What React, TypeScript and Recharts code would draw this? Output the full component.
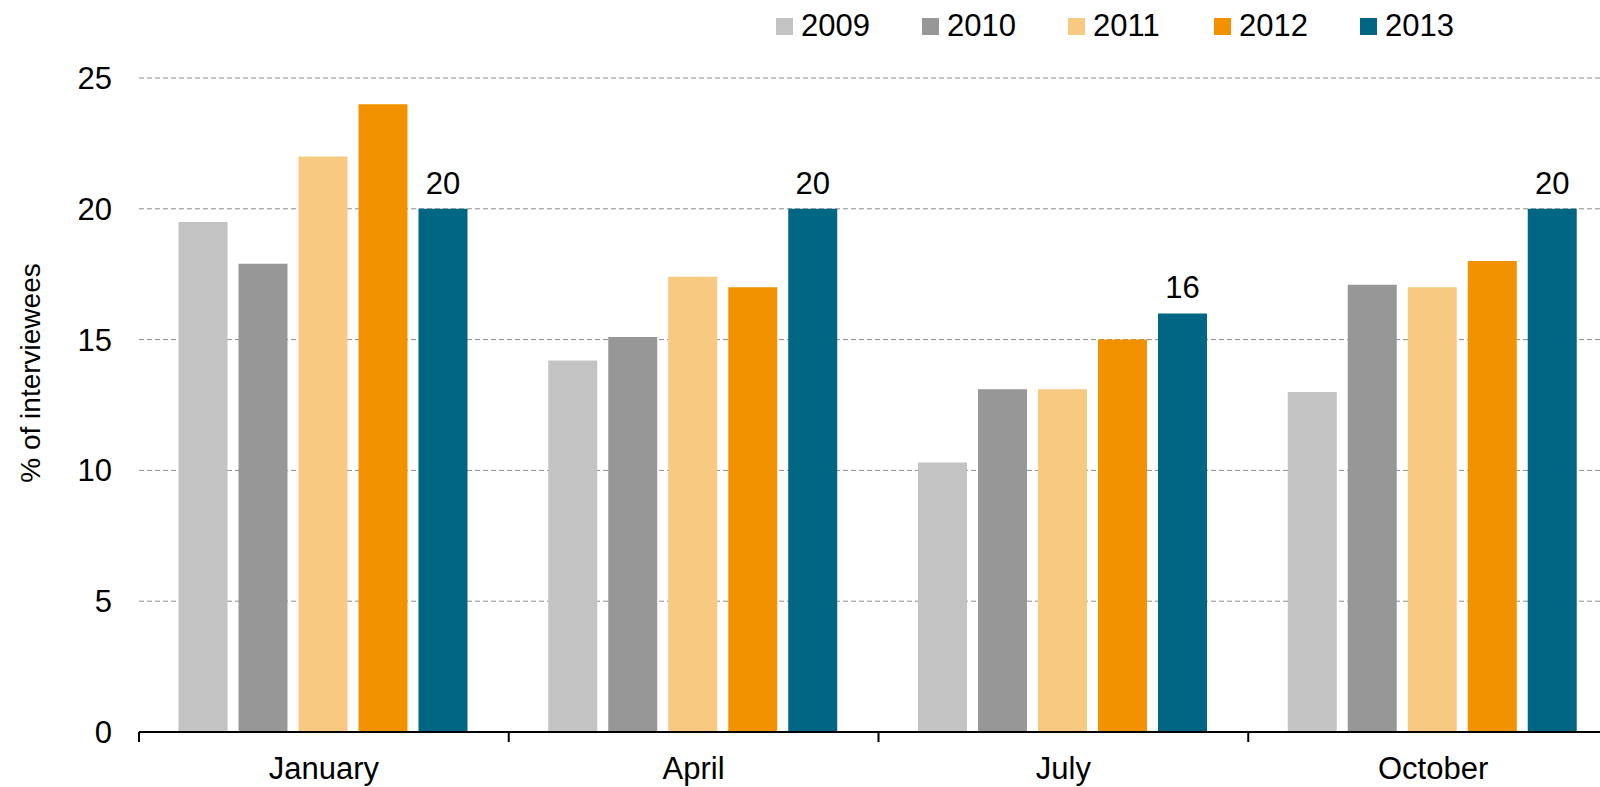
import { Bar, BarChart, CartesianGrid, LabelList, Legend, XAxis, YAxis } from "recharts";

const months = ["January", "April", "July", "October"];
const years = ["2009", "2010", "2011", "2012", "2013"];
const v2009 = [19.5, 14.2, 10.3, 13.0];
const v2010 = [17.9, 15.1, 13.1, 17.1];
const v2011 = [22.0, 17.4, 13.1, 17.0];
const v2012 = [24.0, 17.0, 15.0, 18.0];
const v2013 = [20, 20, 16, 20];
const yTicks = [0, 5, 10, 15, 20, 25];

const colors: Record<string, string> = {
  "2009": "#c3c3c3",
  "2010": "#979797",
  "2011": "#f7c981",
  "2012": "#f39200",
  "2013": "#006683",
};

const series = [v2009, v2010, v2011, v2012, v2013];
const data = months.map((m, i) => {
  const row: Record<string, string | number> = { month: m };
  years.forEach((y, k) => (row[y] = series[k][i]));
  return row;
});

const FONT = "'Liberation Sans', Arial, sans-serif";
const FS = 31;
const CHART_W = 1640;
const LEFT = 139;
const RIGHT = 22;
const BAND = (CHART_W - LEFT - RIGHT) / months.length;

function MonthTick(props: any) {
  const { x, y, payload } = props;
  const half = payload && typeof payload.offset === "number" && payload.offset > 0 ? payload.offset : BAND / 2;
  return (
    <g>
      <line x1={x - half} y1={y - 10} x2={x - half} y2={y} stroke="#000" strokeWidth={2} />
      <text x={x} y={y + 37} textAnchor="middle" fontFamily={FONT} fontSize={FS} fill="#000">
        {payload.value}
      </text>
    </g>
  );
}

function LegendRow(props: any) {
  const items = props.payload || [];
  return (
    <div style={{ display: "flex", fontFamily: FONT, fontSize: FS, color: "#000" }}>
      {items.map((it: any) => (
        <div key={it.value} style={{ width: 146, display: "flex", alignItems: "center" }}>
          <span style={{ width: 17, height: 17, background: it.color, marginRight: 8, display: "inline-block" }} />
          <span>{it.value}</span>
        </div>
      ))}
    </div>
  );
}

function YTitle(props: any) {
  const vb = props.viewBox || { x: 0, y: 0, height: 0 };
  const cx = vb.x + 30;
  const cy = vb.y + vb.height / 2 - 32;
  return (
    <text
      x={cx}
      y={cy}
      transform={`rotate(-90 ${cx} ${cy})`}
      textAnchor="middle"
      dominantBaseline="central"
      fontFamily={FONT}
      fontSize={28}
      fill="#000"
    >
      % of interviewees
    </text>
  );
}

export default function App() {
  return (
    <div style={{ position: "absolute", left: 0, top: 0, width: 1600, height: 787, overflow: "hidden", background: "#fff" }}>
      <BarChart
        width={CHART_W}
        height={787}
        data={data}
        margin={{ top: 78, right: RIGHT, bottom: 0, left: 0 }}
        barCategoryGap={39.5}
        barGap={11}
      >
        <CartesianGrid vertical={false} stroke="#8c8c8c" strokeDasharray="5 3" />
        <XAxis
          dataKey="month"
          height={55}
          tickLine={false}
          tickSize={10}
          tickMargin={0}
          axisLine={{ stroke: "#000", strokeWidth: 2 }}
          tick={<MonthTick />}
          interval={0}
        />
        <YAxis
          width={LEFT}
          domain={[0, 25]}
          ticks={yTicks}
          tickLine={false}
          axisLine={false}
          tickSize={0}
          tickMargin={27}
          tick={{ fill: "#000", fontSize: FS, fontFamily: FONT }}
          label={{ content: <YTitle /> } as any}
        />
        <Legend
          layout="horizontal"
          verticalAlign="middle"
          align="center"
          content={<LegendRow />}
          wrapperStyle={{ top: 8, left: 776, width: 760 }}
        />
        {years.map((y) => (
          <Bar key={y} dataKey={y} name={y} fill={colors[y]} isAnimationActive={false}>
            {y === "2013" ? (
              <LabelList
                dataKey={y}
                position="top"
                offset={15}
                fill="#000"
                fontSize={FS}
                fontFamily={FONT}
              />
            ) : null}
          </Bar>
        ))}
      </BarChart>
    </div>
  );
}
